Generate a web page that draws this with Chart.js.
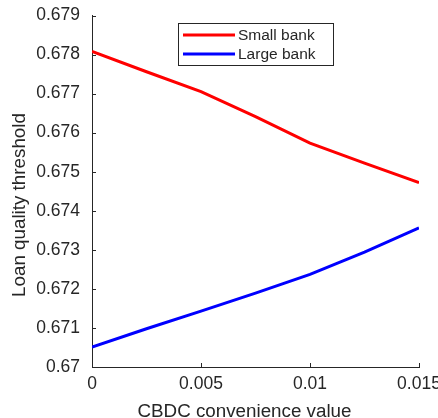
<!DOCTYPE html>
<html>
<head>
<meta charset="utf-8">
<script src="https://cdn.jsdelivr.net/npm/chart.js@4/dist/chart.umd.min.js"></script>
<style>
  html, body { margin: 0; padding: 0; background: #fff; }
  #wrap { width: 438px; height: 418px; }
</style>
</head>
<body>
<div id="wrap"><canvas id="c" width="438" height="418"></canvas></div>
<script>
const convenience = [0, 0.0025, 0.005, 0.0075, 0.01, 0.0125, 0.015];
const smallBank = [0.67808, 0.67756, 0.67705, 0.67641, 0.67573, 0.67522, 0.67472];
const largeBank = [0.67051, 0.67098, 0.67143, 0.67189, 0.67237, 0.67294, 0.67356];
const seriesNames = ['Small bank', 'Large bank'];
const xTicks = [0, 0.005, 0.01, 0.015];
const yTicks = [0.67, 0.671, 0.672, 0.673, 0.674, 0.675, 0.676, 0.677, 0.678, 0.679];
const xTitle = 'CBDC convenience value';
const yTitle = 'Loan quality threshold';

const FONT = '"Liberation Sans", Arial, Helvetica, sans-serif';
const TXT = '#262626';

const toXY = (xs, ys) => xs.map((x, i) => ({ x: x, y: ys[i] }));

const extras = {
  id: 'extras',
  afterDraw(chart) {
    const ctx = chart.ctx;
    const xs = chart.scales.x, ys = chart.scales.y;
    const a = chart.chartArea;
    ctx.save();
    // inward ticks
    ctx.strokeStyle = TXT;
    ctx.lineWidth = 1;
    ctx.beginPath();
    xTicks.forEach(v => {
      const px = Math.round(xs.getPixelForValue(v)) + 0.5;
      ctx.moveTo(px, a.bottom);
      ctx.lineTo(px, a.bottom - 4);
    });
    yTicks.forEach(v => {
      const py = Math.round(ys.getPixelForValue(v)) + 0.5;
      ctx.moveTo(a.left, py);
      ctx.lineTo(a.left + 4, py);
    });
    ctx.stroke();

    // axis titles
    ctx.fillStyle = TXT;
    ctx.font = '18.8px ' + FONT;
    ctx.textAlign = 'center';
    ctx.textBaseline = 'alphabetic';
    ctx.fillText(xTitle, 244.5, 416.5);
    ctx.save();
    ctx.translate(25, 205);
    ctx.rotate(-Math.PI / 2);
    ctx.fillText(yTitle, 0, 0);
    ctx.restore();

    // legend box
    const bx = 178.5, by = 23.5, bw = 155, bh = 42;
    ctx.fillStyle = '#fff';
    ctx.fillRect(bx, by, bw, bh);
    ctx.strokeStyle = TXT;
    ctx.lineWidth = 1;
    ctx.strokeRect(bx, by, bw, bh);
    const rowY = [35, 54];
    chart.data.datasets.forEach((ds, i) => {
      ctx.strokeStyle = ds.borderColor;
      ctx.lineWidth = 3;
      ctx.beginPath();
      ctx.moveTo(183, rowY[i]);
      ctx.lineTo(235, rowY[i]);
      ctx.stroke();
      ctx.fillStyle = TXT;
      ctx.font = '15.5px ' + FONT;
      ctx.textAlign = 'left';
      ctx.textBaseline = 'middle';
      ctx.fillText(ds.label, 238, rowY[i] + 0.5);
    });
    ctx.restore();
  }
};

new Chart(document.getElementById('c'), {
  type: 'line',
  data: {
    datasets: [
      { label: seriesNames[0], data: toXY(convenience, smallBank), borderColor: '#ff0000', borderWidth: 3, pointRadius: 0, tension: 0, fill: false },
      { label: seriesNames[1], data: toXY(convenience, largeBank), borderColor: '#0000ff', borderWidth: 3, pointRadius: 0, tension: 0, fill: false }
    ]
  },
  options: {
    responsive: false,
    animation: false,
    events: [],
    layout: { padding: { left: 0, right: 19, top: 15.5, bottom: 0 } },
    plugins: { legend: { display: false }, tooltip: { enabled: false } },
    scales: {
      x: {
        type: 'linear',
        min: 0, max: 0.015,
        afterFit: s => { s.height = 51; s.paddingLeft = 0; s.paddingRight = 0; },
        afterBuildTicks: s => { s.ticks = xTicks.map(v => ({ value: v })); },
        ticks: {
          color: TXT, font: { family: FONT, size: 17.5 }, padding: 7, maxRotation: 0,
          callback: v => String(+v.toFixed(3))
        },
        grid: { display: false, drawTicks: false },
        border: { display: true, color: TXT, width: 1 }
      },
      y: {
        type: 'linear',
        min: 0.67, max: 0.679,
        afterFit: s => { s.width = 92; s.paddingTop = 0; s.paddingBottom = 0; },
        afterBuildTicks: s => { s.ticks = yTicks.map(v => ({ value: v })); },
        ticks: {
          color: TXT, font: { family: FONT, size: 17.5 }, padding: 12,
          callback: v => String(+v.toFixed(3))
        },
        grid: { display: false, drawTicks: false },
        border: { display: true, color: TXT, width: 1 }
      }
    }
  },
  plugins: [extras]
});
</script>
</body>
</html>
